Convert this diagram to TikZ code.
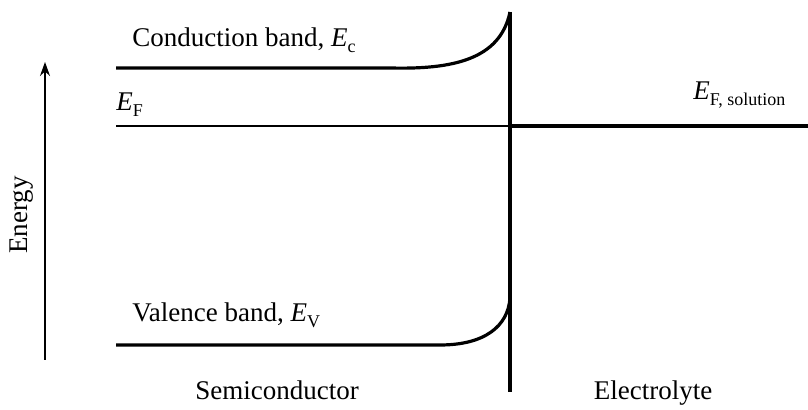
\documentclass[tikz,border=0pt]{standalone}
\usepackage{fontspec}
\setmainfont{Liberation Serif}
\usetikzlibrary{arrows.meta}
\newcommand{\energysub}[2]{\textit{#1}\raisebox{-0.45ex}{\small #2}}

\begin{document}
\begin{tikzpicture}[
    x=0.5pt, y=-0.5pt,
    lbl/.style={inner sep=0pt, font=\fontsize{13.5}{15}\selectfont},
    band/.style={line width=1.6pt},
    level/.style={line width=1.1pt},
    >={Stealth[length=7pt,width=5pt]}
]
\useasboundingbox (0,0) rectangle (808,410);
% interface
\coordinate (itop) at (510,12);
\coordinate (ibot) at (510,392);
\draw[line width=1.6pt] (itop) -- (ibot);
% Fermi levels
\coordinate (fleft) at (116,126);
\coordinate (fmid) at (510,126);
\coordinate (fright) at (808,126);
\draw[level] (fleft) -- (fmid);
\draw[line width=2pt] (fmid) -- (fright);
% bands
\coordinate (cstart) at (116,68);
\coordinate (vstart) at (116,345);
\draw[band] (cstart) -- (390,68) .. controls (452,69.5) and (500,60) .. (itop);
\draw[band] (vstart) -- (440,345) .. controls (485,345) and (508,326) .. (510,298);
% energy axis
\coordinate (ebot) at (45,360);
\coordinate (etop) at (45,62);
\draw[->, line width=0.7pt] (ebot) -- (etop);
\node[lbl, rotate=90] (energy) at (22,215) {Energy};
% labels
\node[lbl, anchor=base west] (cband) at (132,47) {Conduction band, \energysub{E}{c}};
\node[lbl, anchor=base west] (vband) at (132,322) {Valence band, \energysub{E}{V}};
\node[lbl, anchor=base west] (ef) at (116,111) {\energysub{E}{F}};
\node[lbl, anchor=base west] (efsol) at (693,100) {\energysub{E}{F, solution}};
\node[lbl, anchor=base] (semi) at (277,400) {Semiconductor};
\node[lbl, anchor=base] (elec) at (653,400) {Electrolyte};
\end{tikzpicture}
\end{document}
